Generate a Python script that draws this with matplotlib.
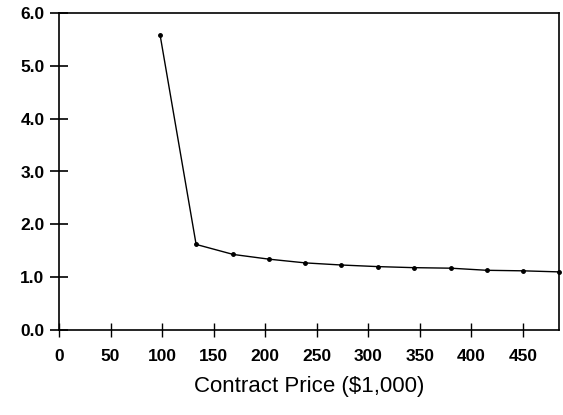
import matplotlib
matplotlib.use("Agg")
import matplotlib.pyplot as plt

contract_price = [98, 133, 169, 204, 239, 274, 309, 344, 380, 415, 450, 485]
ratio = [5.59, 1.62, 1.43, 1.34, 1.27, 1.23, 1.20, 1.18, 1.17, 1.13, 1.12, 1.10]
x_ticks = [0, 50, 100, 150, 200, 250, 300, 350, 400, 450]
y_ticks = [0.0, 1.0, 2.0, 3.0, 4.0, 5.0, 6.0]

plt.rcParams['font.family'] = ['Liberation Sans', 'DejaVu Sans']

fig = plt.figure(figsize=(5.63, 4.15), dpi=100)
ax = fig.add_axes([59/563, 1 - 330/415, (559 - 59)/563, (330 - 13)/415])

ax.plot(contract_price, ratio, color='black', linewidth=1.0,
        marker='o', markersize=2.5, clip_on=False)

ax.set_xlim(0, 485)
ax.set_ylim(0, 6.0)
ax.set_xticks(x_ticks)
ax.set_xticklabels([str(v) for v in x_ticks])
ax.set_yticks(y_ticks)
ax.set_yticklabels([f"{v:.1f}" for v in y_ticks])

ax.tick_params(axis='y', direction='inout', length=13, width=1.2,
               labelsize=12.5, pad=4)
ax.tick_params(axis='x', direction='inout', length=10, width=1.0,
               labelsize=12.5, pad=9)
for lab in ax.get_xticklabels() + ax.get_yticklabels():
    lab.set_fontweight('bold')

for s in ax.spines.values():
    s.set_linewidth(1.2)

ax.set_xlabel("Contract Price ($1,000)", fontsize=16, labelpad=8)

fig.savefig("out.png", dpi=100)
